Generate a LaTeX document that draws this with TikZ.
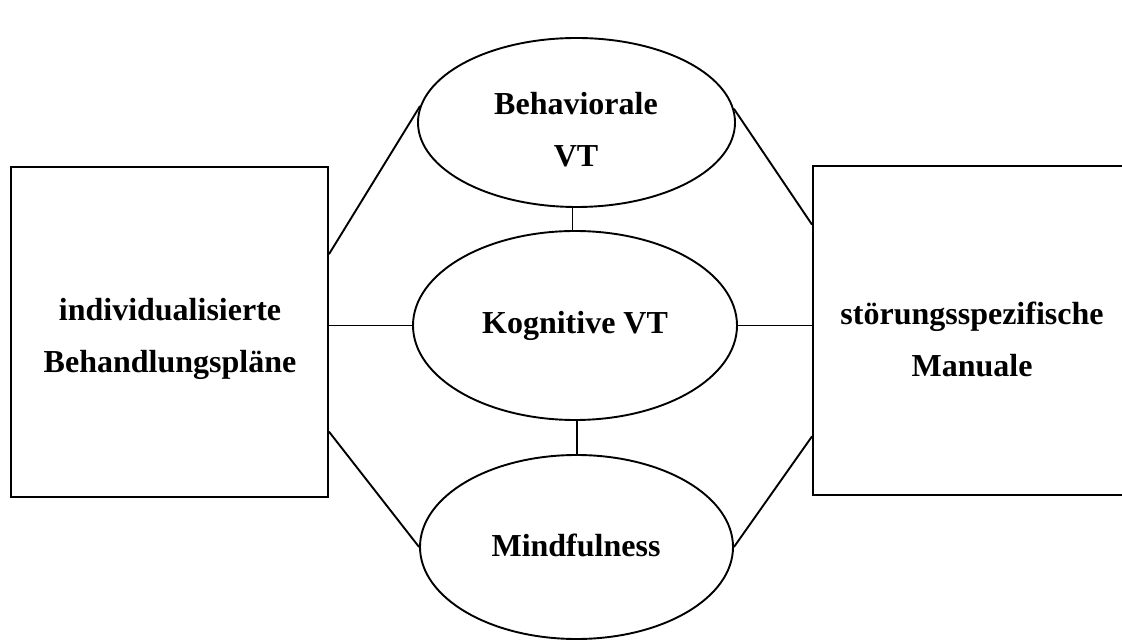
\documentclass[tikz,border=0pt]{standalone}
\usepackage{fontspec}
\setmainfont{Liberation Serif}
\usetikzlibrary{shapes.geometric}

\begin{document}
\begin{tikzpicture}[x=0.5pt,y=-0.5pt,line width=0.95pt,
  every node/.style={font=\bfseries\fontsize{16}{26}\selectfont,align=center,inner sep=0pt},
  formbox/.style={draw,rectangle,minimum width=158.5pt,minimum height=165pt},
  vtoval/.style={draw,ellipse}]
\useasboundingbox (0,0) rectangle (1122,640);

\node[formbox] (indiv) at (169.5,332) {};
\node[formbox,minimum width=162pt,minimum height=164.5pt] (manual) at (975,330.5) {};
\node (indivtext) at (170,339) {individualisierte\\Behandlungspläne};
\node (manualtext) at (972,339) {störungsspezifische\\Manuale};

\node[vtoval,minimum width=158.5pt,minimum height=84.5pt] (behav) at (576.5,122.5) {};
\node (behavtext) at (576,130) {Behaviorale\\VT};
\node[vtoval,minimum width=162pt,minimum height=94.5pt] (kogn) at (575,325.5) {Kognitive VT};
\node[vtoval,minimum width=156.5pt,minimum height=92pt] (mind) at (576.5,547) {};
\node (mindtext) at (576,545) {Mindfulness};

\draw ([xshift=-2pt]behav.south) -- ([xshift=-2pt]behav.south |- kogn.north);
\draw ([xshift=1pt]kogn.south) -- ([xshift=1pt]kogn.south |- mind.north);

\draw (indiv.26) -- (behav.174);
\draw (indiv.east |- kogn.west) -- (kogn.west);
\draw (indiv.-32) -- (mind.west);

\draw (behav.5) -- (manual.147);
\draw (kogn.east) -- (manual.west |- kogn.east);
\draw (mind.east) -- (manual.213);
\end{tikzpicture}
\end{document}
